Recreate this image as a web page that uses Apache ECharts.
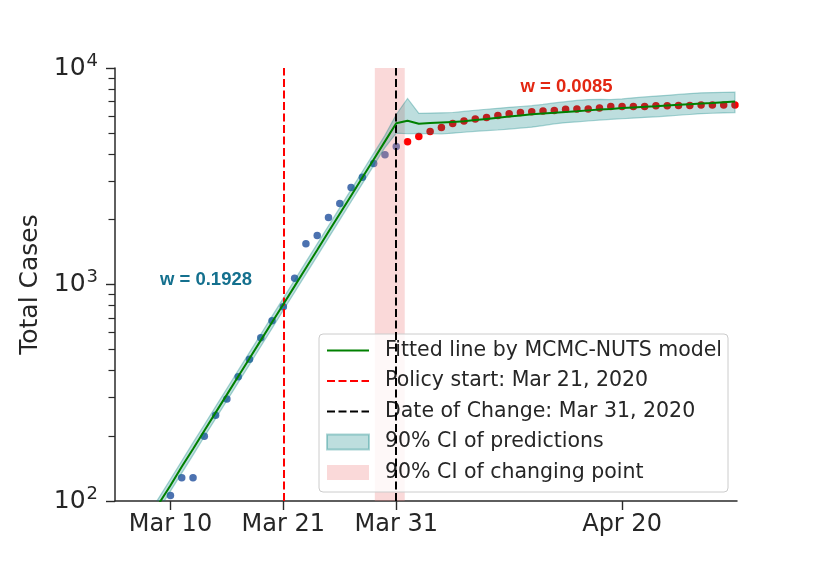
<!DOCTYPE html>
<html>
<head>
<meta charset="utf-8">
<script src="https://cdn.jsdelivr.net/npm/echarts@6/dist/echarts.min.js"></script>
<style>
html,body{margin:0;padding:0;background:#fff;}
#chart{width:830px;height:573px;}
</style>
</head>
<body>
<div id="chart"></div>
<script>
// ---- data (day index: Mar d -> d, Apr d -> 31 + d) ----
const tickDays = [11, 21, 31, 51];
const tickLabels = ['Mar 10', 'Mar 21', 'Mar 31', 'Apr 20'];
const minorTickValues = [200,300,400,500,600,700,800,900,2000,3000,4000,5000,6000,7000,8000,9000];

const beforeDays = [11,12,13,14,15,16,17,18,19,20,21,22,23,24,25,26,27,28,29,30,31];
const beforeCases = [106,128,128,199,249,296,375,451,567,680,790,1068,1544,1682,2037,2364,2804,3132,3621,3972,4339];

const afterDays = [32,33,34,35,36,37,38,39,40,41,42,43,44,45,46,47,48,49,50,51,52,53,54,55,56,57,58,59,60,61];
const afterCases = [4561,4827,5091,5313,5544,5688,5810,5910,6037,6147,6233,6280,6327,6368,6449,6464,6464,6531,6643,6643,6643,6643,6692,6692,6714,6714,6742,6742,6742,6742];

const fitDays = [8,9,10,11,12,13,14,15,16,17,18,19,20,21,22,23,24,25,26,27,28,29,30,31,32,33,34,35,36,37,38,39,40,41,42,43,44,45,46,47,48,49,50,51,52,53,54,55,56,57,58,59,60,61];
const fitValues = [66.5,80.6,97.7,118,144,174,211,256,310,376,455,552,669,811,983,1192,1444,1751,2122,2572,3118,3779,4581,5554,5710,5530,5566,5602,5637,5673,5745,5820,5894,5964,6040,6110,6164,6210,6264,6317,6372,6426,6474,6529,6578,6620,6663,6712,6756,6805,6855,6900,6951,7003];
const ciHigh = [71,86,104,126,153,186,225,273,331,401,486,589,714,865,1049,1272,1541,1868,2264,2744,3327,4032,4888,6100,7230,6178,6190,6205,6230,6300,6380,6450,6514,6580,6640,6700,6790,6900,6987,7080,7150,7168,7150,7200,7280,7350,7420,7480,7550,7620,7680,7700,7720,7730];
const ciLow = [62,75.5,91.6,111,134.6,163,198,240,290.5,352,426,517,627,760,921,1117,1353,1641,1989,2410,2922,3542,4293,5000,4970,4993,4970,4955,5000,5050,5100,5140,5171,5220,5280,5330,5420,5520,5589,5640,5690,5745,5795,5830,5870,5910,5950,6000,6050,6100,6150,6180,6200,6217];

const policyDay = 21;
const changeDay = 31;
const changeCI = [29.1, 31.75];

const seriesNames = ['Fitted line by MCMC-NUTS model', 'Policy start: Mar 21, 2020', 'Date of Change: Mar 31, 2020', '90% CI of predictions', '90% CI of changing point'];
const wBefore = 'w = 0.1928';
const wAfter = 'w = 0.0085';

// ---- chart ----
const chart = echarts.init(document.getElementById('chart'), null, {renderer: 'canvas'});
const FONT = 'DejaVu Sans';
const TXT = '#262626';
const AX = '#2a2a2a';
const tealFill = 'rgba(0,128,128,0.26)';
const tealEdge = 'rgba(0,128,128,0.32)';
const pinkFill = 'rgba(240,128,128,0.3)';
const dash = [8, 3.5];

function zip(a, b) { return a.map((v, i) => [v, b[i]]); }

const option = {
  animation: false,
  backgroundColor: '#fff',
  textStyle: {fontFamily: FONT},
  grid: {left: 115, right: 93, top: 68, bottom: 72, containLabel: false},
  xAxis: {
    type: 'value', min: 6.09, max: 61.18,
    splitLine: {show: false},
    axisLine: {show: true, lineStyle: {color: AX, width: 1.5}},
    axisTick: {show: true, customValues: tickDays, length: 9, lineStyle: {color: AX, width: 1.4}},
    axisLabel: {
      customValues: tickDays, margin: 12, fontSize: 24, color: TXT, fontFamily: FONT,
      formatter: function (v) { const i = tickDays.indexOf(v); return i >= 0 ? tickLabels[i] : ''; }
    }
  },
  yAxis: [{
    type: 'log', logBase: 10, min: 100, max: 10000, position: 'left',
    name: 'Total Cases', nameLocation: 'middle', nameGap: 70,
    nameTextStyle: {fontSize: 25, color: TXT, fontFamily: FONT},
    splitLine: {show: false},
    axisLine: {show: true, lineStyle: {color: AX, width: 1.5}},
    axisTick: {show: true, length: 9, lineStyle: {color: AX, width: 1.4}},
    axisLabel: {
      margin: 17, color: TXT,
      formatter: function (v) { return '{b|10}{s|' + Math.round(Math.log10(v)) + '}'; },
      rich: {
        b: {fontSize: 25, fontFamily: FONT, color: TXT},
        s: {fontSize: 18, fontFamily: FONT, color: TXT, padding: [0, 0, 14, 1]}
      }
    }
  }, {
    type: 'log', logBase: 10, min: 100, max: 10000, position: 'left', offset: 0,
    splitLine: {show: false},
    axisLine: {show: false},
    axisLabel: {show: false},
    axisTick: {show: true, customValues: minorTickValues, length: 6.5, lineStyle: {color: AX, width: 1.2}}
  }],
  legend: {
    orient: 'vertical', left: 319, top: 334,
    padding: [6, 6, 9, 7], itemGap: 9.5, itemWidth: 42, itemHeight: 15,
    backgroundColor: 'rgba(255,255,255,0.8)', borderColor: '#cccccc', borderWidth: 1, borderRadius: 4,
    textStyle: {fontSize: 20.5, color: TXT, fontFamily: FONT, padding: [0, 0, 0, 11]},
    data: [
      {name: seriesNames[0], itemStyle: {opacity: 0}},
      {name: seriesNames[1], itemStyle: {opacity: 0}},
      {name: seriesNames[2], itemStyle: {opacity: 0}},
      {name: seriesNames[3], icon: 'rect'},
      {name: seriesNames[4], icon: 'rect'}
    ]
  },
  graphic: [
    {type: 'text', x: 206, y: 279.5, z: 100,
      style: {text: wBefore, textAlign: 'center', textVerticalAlign: 'middle', font: 'bold 18.5px "Liberation Sans"', fill: '#14708e'}},
    {type: 'text', x: 566.5, y: 86.5, z: 100,
      style: {text: wAfter, textAlign: 'center', textVerticalAlign: 'middle', font: 'bold 18.5px "Liberation Sans"', fill: '#e32712'}}
  ],
  series: [
    {
      name: 'observed before', type: 'scatter', z: 2, symbolSize: 7.5, clip: true,
      itemStyle: {color: '#4c72b0', opacity: 1}, data: zip(beforeDays, beforeCases)
    },
    {
      name: 'observed after', type: 'scatter', z: 2, symbolSize: 7.5, clip: true,
      itemStyle: {color: '#ff0000', opacity: 1}, data: zip(afterDays, afterCases)
    },
    {
      name: seriesNames[4], type: 'custom', z: 3,
      itemStyle: {color: pinkFill},
      data: [[changeCI[0], 1000]],
      renderItem: function (params, api) {
        if (params.dataIndex !== 0) return;
        const p1 = api.coord([changeCI[0], 10000]);
        const p2 = api.coord([changeCI[1], 100]);
        return {type: 'rect', shape: {x: p1[0], y: p1[1], width: p2[0] - p1[0], height: p2[1] - p1[1]},
          style: {fill: pinkFill}};
      }
    },
    {
      name: seriesNames[3], type: 'custom', z: 3,
      itemStyle: {color: tealFill, borderColor: tealEdge, borderWidth: 1.5},
      data: [[fitDays[20], fitValues[20]]],
      renderItem: function (params, api) {
        if (params.dataIndex !== 0) return;
        const pts = [];
        for (let i = 0; i < fitDays.length; i++) pts.push(api.coord([fitDays[i], ciHigh[i]]));
        for (let i = fitDays.length - 1; i >= 0; i--) pts.push(api.coord([fitDays[i], ciLow[i]]));
        const cs = params.coordSys;
        return {type: 'polygon', shape: {points: pts},
          style: {fill: tealFill, stroke: tealEdge, lineWidth: 1.2},
          clipPath: {type: 'rect', shape: {x: cs.x, y: cs.y, width: cs.width, height: cs.height}}};
      }
    },
    {
      name: seriesNames[1], type: 'line', z: 4, data: [], symbol: 'none',
      itemStyle: {color: '#ff0000'}, lineStyle: {color: '#ff0000', width: 2, type: dash},
      markLine: {silent: true, symbol: ['none', 'none'], label: {show: false},
        lineStyle: {color: '#ff0000', width: 2, type: dash}, data: [{xAxis: policyDay}]}
    },
    {
      name: seriesNames[2], type: 'line', z: 4, data: [], symbol: 'none',
      itemStyle: {color: '#000000'}, lineStyle: {color: '#000000', width: 2, type: dash},
      markLine: {silent: true, symbol: ['none', 'none'], label: {show: false},
        lineStyle: {color: '#000000', width: 2, type: dash}, data: [{xAxis: changeDay}]}
    },
    {
      name: seriesNames[0], type: 'line', z: 5, symbol: 'none', showSymbol: false, clip: true,
      itemStyle: {color: '#008000'}, lineStyle: {color: '#008000', width: 2},
      data: zip(fitDays, fitValues)
    }
  ]
};
chart.setOption(option);
</script>
</body>
</html>
